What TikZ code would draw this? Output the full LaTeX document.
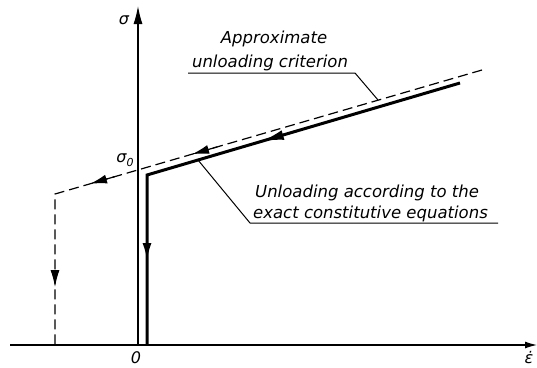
\documentclass[tikz,border=0pt]{standalone}
\usepackage{fontspec}
\setmainfont{DejaVu Sans}
\usetikzlibrary{arrows.meta,calc}
\tikzset{
  axis/.style={line width=1.2pt},
  thickline/.style={line width=3pt, line join=miter},
  dashline/.style={line width=1.2pt, dash pattern=on 10pt off 5pt},
  leader/.style={line width=1pt},
  lab/.style={font=\fontsize{16.5}{20}\selectfont\itshape, inner sep=0pt},
  sym/.style={font=\fontsize{16}{18}\selectfont\itshape, inner sep=0pt},
  bigtip/.style={-{Latex[length=22pt,width=10pt]}},
  medtip/.style={-{Latex[length=17pt,width=9pt]}},
}
\begin{document}
\begin{tikzpicture}[x=1pt,y=-1pt]
\useasboundingbox (0,0) rectangle (537,367);
% coordinates
\coordinate (O) at (138,345);
\coordinate (ytop) at (138,6);
\coordinate (xl) at (10,345);
\coordinate (xr) at (537,345);
\coordinate (T0) at (147,345);
\coordinate (T1) at (147,175);
\coordinate (T2) at (460,83);
\coordinate (D0) at (482,70);
\coordinate (D1) at (55,194);
\coordinate (D2) at (55,345);
% axes
\draw[axis] (xl) -- (O);
\draw[axis,-{Latex[length=12pt,width=7pt]}] (O) -- (xr);
\draw[axis,-{Latex[length=18pt,width=9pt]}] (O) -- (ytop);
% thick exact unloading path
\draw[thickline] (T2) -- (T1) -- (T0);
\draw[bigtip,line width=2pt] ($(T2)!0.52!(T1)$) -- ($(T2)!0.633!(T1)$);
\draw[medtip,line width=2pt] ($(T1)!0.35!(T0)$) -- ($(T1)!0.5!(T0)$);
% dashed approximate path
\draw[dashline] (D0) -- (D1) -- (D2);
\draw[medtip,line width=1.2pt] ($(D0)!0.62!(D1)$) -- ($(D0)!0.679!(D1)$);
\draw[medtip,line width=1.2pt] ($(D0)!0.86!(D1)$) -- ($(D0)!0.918!(D1)$);
\draw[medtip,line width=1.2pt] ($(D1)!0.5!(D2)$) -- ($(D1)!0.616!(D2)$);
% leaders
\coordinate (A0) at (188,73);
\coordinate (A1) at (355,73);
\coordinate (A2) at (378,100);
\draw[leader] (A0) -- (A1) -- (A2);
\coordinate (B0) at (498,223);
\coordinate (B1) at (250,223);
\coordinate (B2) at (198,160);
\draw[leader] (B0) -- (B1) -- (B2);
% labels
\node[lab,anchor=base] (la1) at (274,43) {Approximate};
\node[lab,anchor=base] (la2) at (270,67) {unloading criterion};
\node[lab,anchor=base west] (lb1) at (255,197) {Unloading according to the};
\node[lab,anchor=base west] (lb2) at (253,218) {exact constitutive equations};
\node[sym] (sig) at (124,20) {σ};
\node[sym] (sig0) at (125,160) {σ\raisebox{-0.25em}{\fontsize{11}{12}\selectfont 0}};
\node[sym] (zero) at (136,358) {0};
\node[sym] (eps) at (529,358) {ε̇};
\end{tikzpicture}
\end{document}
